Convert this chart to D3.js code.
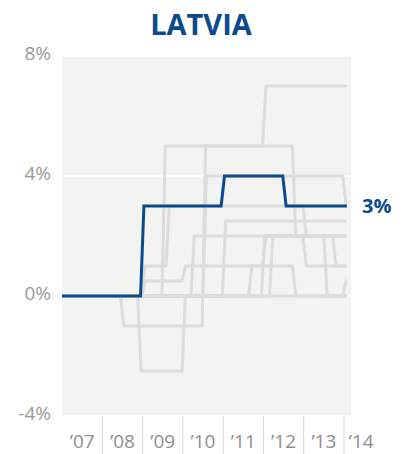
<!DOCTYPE html>
<html>
<head>
<meta charset="utf-8">
<script src="https://cdn.jsdelivr.net/npm/d3@7/dist/d3.min.js"></script>
<style>
  html, body { margin: 0; padding: 0; background: #fff; }
  svg { display: block; }
</style>
</head>
<body>
<svg id="chart" width="407" height="454"></svg>
<script>
// Policy-rate style step series, 2007–2014 (percent)
const title = "LATVIA";
const tickYears = [2007, 2008, 2009, 2010, 2011, 2012, 2013, 2014];
const tickLabels = ["\u201907", "\u201908", "\u201909", "\u201910", "\u201911", "\u201912", "\u201913", "\u201914"];
const yTicks = [8, 4, 0, -4];
const yTickLabels = ["8%", "4%", "0%", "-4%"];

// Each series: [decimal year, new value] change points
const latvia = [[2007.0, 0], [2008.95, 3], [2010.95, 4], [2012.48, 3]];
const latviaLabel = "3%";

const others = [
  [[2007, 0], [2009.48, 5], [2011.98, 7]],
  [[2007, 0], [2008.98, 1], [2009.58, 3], [2012.98, 2]],
  [[2007, 0], [2008.45, -1], [2010.48, 5], [2012.72, 2]],
  [[2007, 0], [2010.5, 4], [2013.97, 3]],
  [[2007, 0], [2010.98, 2.5]],
  [[2007, 0], [2008.98, 0.5], [2009.98, 1], [2011.98, 2], [2013.72, 1]],
  [[2007, 0], [2010.2, 2]],
  [[2007, 0], [2011.63, 1], [2012.72, 0], [2013.97, 0.5]],
  [[2007, 0], [2011.95, 2], [2013.5, 0]],
  [[2007, 0], [2012.15, 2], [2012.98, 1]],
  [[2007, 0], [2008.88, -2.5], [2009.98, 0]]
];

const seriesEnd = 2014.07;
const stepTime = 1 / 12; // a change takes one month on the chart

const svg = d3.select("#chart");
const plot = { left: 62, right: 351, top: 56, bottom: 416 };

const x = d3.scaleLinear().domain([2007, 2014]).range([62, 344]);
const y = d3.scaleLinear().domain([-4, 8]).range([plot.bottom, plot.top]);

// Turn change points into a path with one-month ramps
function stepPoints(changes) {
  const pts = [[changes[0][0], changes[0][1]]];
  for (let i = 1; i < changes.length; i++) {
    pts.push([changes[i][0], changes[i - 1][1]]);
    pts.push([changes[i][0] + stepTime, changes[i][1]]);
  }
  pts.push([seriesEnd, changes[changes.length - 1][1]]);
  return pts;
}

const line = d3.line().x(d => x(d[0])).y(d => y(d[1]));

// Title
svg.append("text")
  .attr("x", 201).attr("y", 35)
  .attr("text-anchor", "middle")
  .attr("font-family", "'Open Sans', sans-serif")
  .attr("font-weight", 700)
  .attr("font-size", 29)
  .attr("fill", "#0b4a8c")
  .text(title);

// Plot background
svg.append("rect")
  .attr("x", plot.left).attr("y", plot.top)
  .attr("width", plot.right - plot.left).attr("height", plot.bottom - plot.top)
  .attr("fill", "#f3f3f2");

// Horizontal gridlines
svg.append("g").selectAll("line").data(yTicks).join("line")
  .attr("x1", plot.left).attr("x2", plot.right)
  .attr("y1", d => y(d)).attr("y2", d => y(d))
  .attr("stroke", "#fff").attr("stroke-width", 1.5);

// Y labels
svg.append("g").selectAll("text").data(yTicks).join("text")
  .attr("x", 51).attr("y", d => y(d) - 2)
  .attr("dy", "0.3em")
  .attr("text-anchor", "end")
  .attr("font-family", "'Open Sans', sans-serif")
  .attr("font-size", 19)
  .attr("fill", "#9a9a9a")
  .text((d, i) => yTickLabels[i]);

// X tick lines below the plot
svg.append("g").selectAll("line").data(tickYears.slice(1)).join("line")
  .attr("x1", d => x(d)).attr("x2", d => x(d))
  .attr("y1", plot.bottom).attr("y2", 454)
  .attr("stroke", "#d6d6d6").attr("stroke-width", 1);

// X labels, centred inside each year
svg.append("g").selectAll("text").data(tickYears).join("text")
  .attr("x", d => x(d + 0.5) - (d === 2014 ? 3 : 0))
  .attr("y", 448)
  .attr("text-anchor", "middle")
  .attr("font-family", "'Open Sans', sans-serif")
  .attr("font-size", 19)
  .attr("fill", "#8e8e8e")
  .text((d, i) => tickLabels[i]);

// Other series in grey
svg.append("g").selectAll("path").data(others).join("path")
  .attr("d", d => line(stepPoints(d)))
  .attr("fill", "none")
  .attr("stroke", "#dcdcdc")
  .attr("stroke-width", 3);

// Latvia
svg.append("path")
  .attr("d", line(stepPoints(latvia)))
  .attr("fill", "none")
  .attr("stroke", "#0b4a8c")
  .attr("stroke-width", 3);

svg.append("text")
  .attr("x", 362).attr("y", y(latvia[latvia.length - 1][1]))
  .attr("dy", "0.36em")
  .attr("font-family", "'Open Sans', sans-serif")
  .attr("font-weight", 700)
  .attr("font-size", 20)
  .attr("fill", "#0b4a8c")
  .text(latviaLabel);
</script>
</body>
</html>
